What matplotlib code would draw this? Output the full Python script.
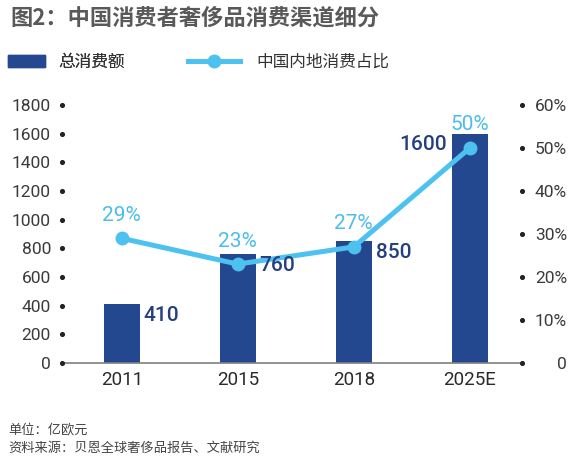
import matplotlib
matplotlib.use('Agg')
import matplotlib.pyplot as plt
from matplotlib.patches import Patch
from matplotlib.lines import Line2D

plt.rcParams['font.family'] = ['Noto Sans CJK SC', 'DejaVu Sans']

# ---- data ----
categories = ['2011', '2015', '2018', '2025E']
total_spend = [410, 760, 850, 1600]          # 亿欧元
mainland_share = [29, 23, 27, 50]            # %
left_ticks = [0, 200, 400, 600, 800, 1000, 1200, 1400, 1600, 1800]
right_ticks = [0, 10, 20, 30, 40, 50, 60]
right_tick_labels = ['0', '10%', '20%', '30%', '40%', '50%', '60%']

title = '图2：中国消费者奢侈品消费渠道细分'
legend_bar = '总消费额'
legend_line = '中国内地消费占比'
note1 = '单位：亿欧元'
note2 = '资料来源：贝恩全球奢侈品报告、文献研究'

BAR = '#24488f'
LINE = '#4dc1ef'
VAL = '#243f80'
PCT = '#4cbde9'
NUMFONT = ['Roboto', 'Liberation Sans', 'DejaVu Sans']

W, H = 574, 458
fig = plt.figure(figsize=(W / 100, H / 100), dpi=100)
ax = fig.add_axes([62 / W, 1 - 363 / H, 460 / W, 258 / H])

x = list(range(len(categories)))
bw = 0.31
ax.bar(x, total_spend, width=bw, color=BAR, zorder=2)
ax.set_xlim(-0.515, 3.45)
ax.set_ylim(0, 1800)
for s in ['top', 'left', 'right']:
    ax.spines[s].set_visible(False)
ax.spines['bottom'].set_color('#7f7f7f')
ax.spines['bottom'].set_linewidth(1.2)

ax.set_yticks(left_ticks)
ax.set_yticklabels([str(t) for t in left_ticks], fontfamily=NUMFONT)
ax.tick_params(axis='y', length=0, pad=8, labelsize=12.5, labelcolor='#3a3a3a')
ax.set_xticks(x)
ax.set_xticklabels(categories, fontfamily=NUMFONT)
ax.tick_params(axis='x', length=0, pad=6, labelsize=13.5, labelcolor='#2a2a2a')

ax.scatter([0] * len(left_ticks), left_ticks, transform=ax.get_yaxis_transform(),
           s=7, color='#222222', clip_on=False, zorder=6)

ax2 = ax.twinx()
ax2.set_ylim(0, 60)
ax2.set_xlim(ax.get_xlim())
for s in ['top', 'left', 'right', 'bottom']:
    ax2.spines[s].set_visible(False)
ax2.plot(x, mainland_share, color=LINE, lw=3.6, marker='o', ms=9,
         solid_capstyle='round', zorder=3)
ax2.set_yticks(right_ticks)
ax2.set_yticklabels(right_tick_labels, fontfamily=NUMFONT)
px = 72 / 100
ax2.tick_params(axis='y', length=0, pad=45 * px, labelsize=12.5, labelcolor='#3a3a3a')
for lab in ax2.get_yticklabels():
    lab.set_horizontalalignment('right')
ax2.scatter([1] * len(right_ticks), right_ticks, transform=ax2.get_yaxis_transform(),
            s=7, color='#222222', clip_on=False, zorder=6)

# bar value labels (drawn on top of the line)
for i, v in enumerate(total_spend):
    if i < len(total_spend) - 1:
        ax2.annotate(str(v), (i + bw / 2, v), xycoords=ax.transData, xytext=(4 * px, -11 * px),
                     textcoords='offset points', ha='left', va='center',
                     fontsize=15, color=VAL, fontfamily=NUMFONT, fontweight='medium', zorder=5)
    else:
        ax2.annotate(str(v), (i - bw / 2, v), xycoords=ax.transData, xytext=(-5 * px, -11 * px),
                     textcoords='offset points', ha='right', va='center',
                     fontsize=15, color=VAL, fontfamily=NUMFONT, fontweight='medium', zorder=5)

for i, v in enumerate(mainland_share):
    ax2.annotate(f'{v}%', (i, v), xytext=(0, 23 * px), textcoords='offset points',
                 ha='center', va='center', fontsize=15, color=PCT, fontfamily=NUMFONT)

# legends
fs_leg = 12
em = fs_leg * 100 / 72
leg1 = fig.legend(handles=[Patch(color=BAR)], labels=[legend_bar], loc='center left',
                  bbox_to_anchor=(8 / W, 1 - 62 / H), frameon=False, fontsize=fs_leg,
                  handlelength=37 / em, handleheight=12 / em, handletextpad=13 / em,
                  borderpad=0, borderaxespad=0, labelcolor='#333333')
leg2 = fig.legend(handles=[Line2D([], [], color=LINE, lw=3.6, marker='o', ms=9)],
                  labels=[legend_line], loc='center left',
                  bbox_to_anchor=(188 / W, 1 - 62 / H), frameon=False, fontsize=fs_leg,
                  handlelength=52 / em, handletextpad=16 / em,
                  borderpad=0, borderaxespad=0, labelcolor='#333333')
fig.add_artist(leg1)

fig.text(10 / W, 1 - 18 / H, title, fontsize=16, fontweight='bold', color='#595959',
         va='center', ha='left')
fig.text(8 / W, 1 - 430 / H, note1, fontsize=9.5, color='#444444', va='center', ha='left')
fig.text(8 / W, 1 - 448 / H, note2, fontsize=9.5, color='#444444', va='center', ha='left')

fig.savefig('out.png', dpi=100)
